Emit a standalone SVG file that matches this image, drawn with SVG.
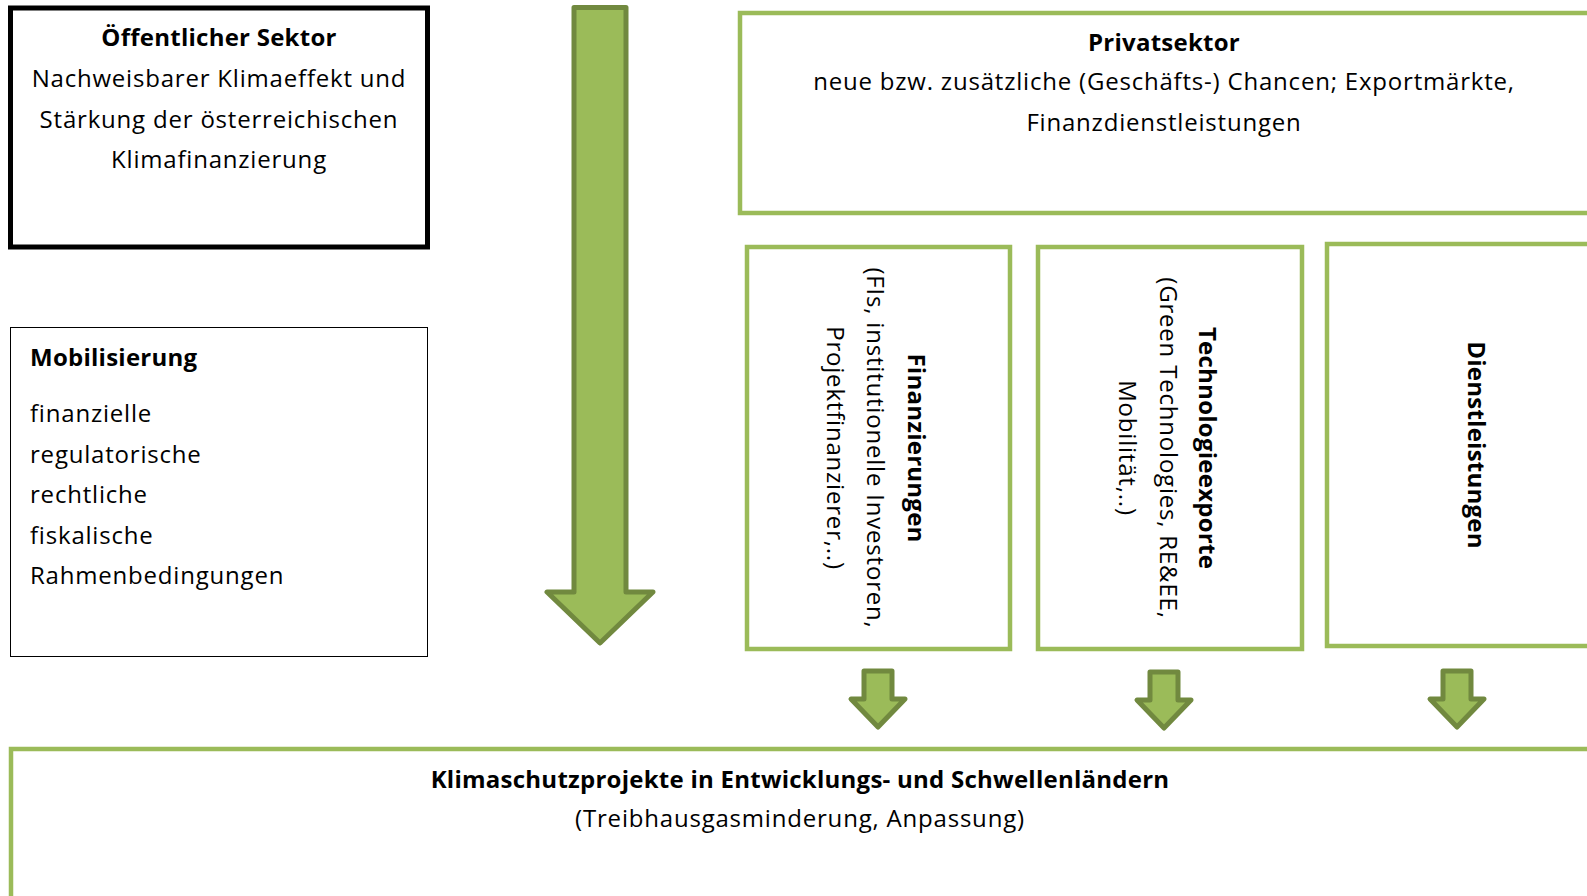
<svg xmlns="http://www.w3.org/2000/svg" width="1587" height="896" viewBox="0 0 1587 896">
<style>
text{font-family:"Open Sans","Noto Sans","Liberation Sans",sans-serif;font-size:24px;fill:#000;letter-spacing:0.8px}
.b{font-weight:bold;letter-spacing:0.25px}
.c{text-anchor:middle}
.gbox{fill:#fff;stroke:#9BBB59;stroke-width:4.5}
.arr{fill:#9BBB59;stroke:#71893F;stroke-width:5;stroke-linejoin:round}
</style>
<rect width="1587" height="896" fill="#fff"/>
<g id="oeffentlich">
<rect x="10.5" y="8" width="417" height="239" fill="#fff" stroke="#000" stroke-width="5"/>
<text class="b c" x="219" y="46">Öffentlicher Sektor</text>
<text class="c" x="219" y="87">Nachweisbarer Klimaeffekt und</text>
<text class="c" x="219" y="127.5">Stärkung der österreichischen</text>
<text class="c" x="219" y="168">Klimafinanzierung</text>
</g>
<g id="mobilisierung">
<rect x="10.5" y="327.5" width="417" height="329" fill="#fff" stroke="#000" stroke-width="1"/>
<text class="b" x="30" y="366">Mobilisierung</text>
<text x="30" y="422">finanzielle</text>
<text x="30" y="462.5">regulatorische</text>
<text x="30" y="503">rechtliche</text>
<text x="30" y="543.5">fiskalische</text>
<text x="30" y="584">Rahmenbedingungen</text>
</g>
<g id="privatsektor">
<rect class="gbox" x="740" y="13" width="860" height="200"/>
<text class="b c" x="1164" y="51">Privatsektor</text>
<text class="c" x="1164" y="90">neue bzw. zusätzliche (Geschäfts-) Chancen; Exportmärkte,</text>
<text class="c" x="1164" y="131">Finanzdienstleistungen</text>
</g>
<g id="finanzierungen">
<rect class="gbox" x="747" y="247" width="263" height="402"/>
<text class="b c" transform="translate(908,448) rotate(90)">Finanzierungen</text>
<text class="c" transform="translate(867,448) rotate(90)">(FIs, institutionelle Investoren,</text>
<text class="c" transform="translate(827,448) rotate(90)">Projektfinanzierer,..)</text>
</g>
<g id="technologieexporte">
<rect class="gbox" x="1038" y="247" width="264" height="402"/>
<text class="b c" transform="translate(1199,448) rotate(90)">Technologieexporte</text>
<text class="c" transform="translate(1160,448) rotate(90)">(Green Technologies, RE&amp;EE,</text>
<text class="c" transform="translate(1119,448) rotate(90)">Mobilität,..)</text>
</g>
<g id="dienstleistungen">
<rect class="gbox" x="1327" y="244" width="280" height="402"/>
<text class="b c" transform="translate(1468,445) rotate(90)">Dienstleistungen</text>
</g>
<g id="klimaschutzprojekte">
<rect class="gbox" x="11" y="749" width="1600" height="200"/>
<text class="b c" x="800" y="788">Klimaschutzprojekte in Entwicklungs- und Schwellenländern</text>
<text class="c" x="800" y="827">(Treibhausgasminderung, Anpassung)</text>
</g>
<g id="connectors">
<path class="arr" d="M574,7.5 H626 V592 H653 L600,643 L547,592 H574 Z"/>
<path class="arr" d="M864,671 H892 V699 H905 L878,727 L851,699 H864 Z"/>
<path class="arr" d="M1150,672 H1178 V700 H1191 L1164,728 L1137,700 H1150 Z"/>
<path class="arr" d="M1443,671 H1471 V699 H1484 L1457,727 L1430,699 H1443 Z"/>
</g>
</svg>
